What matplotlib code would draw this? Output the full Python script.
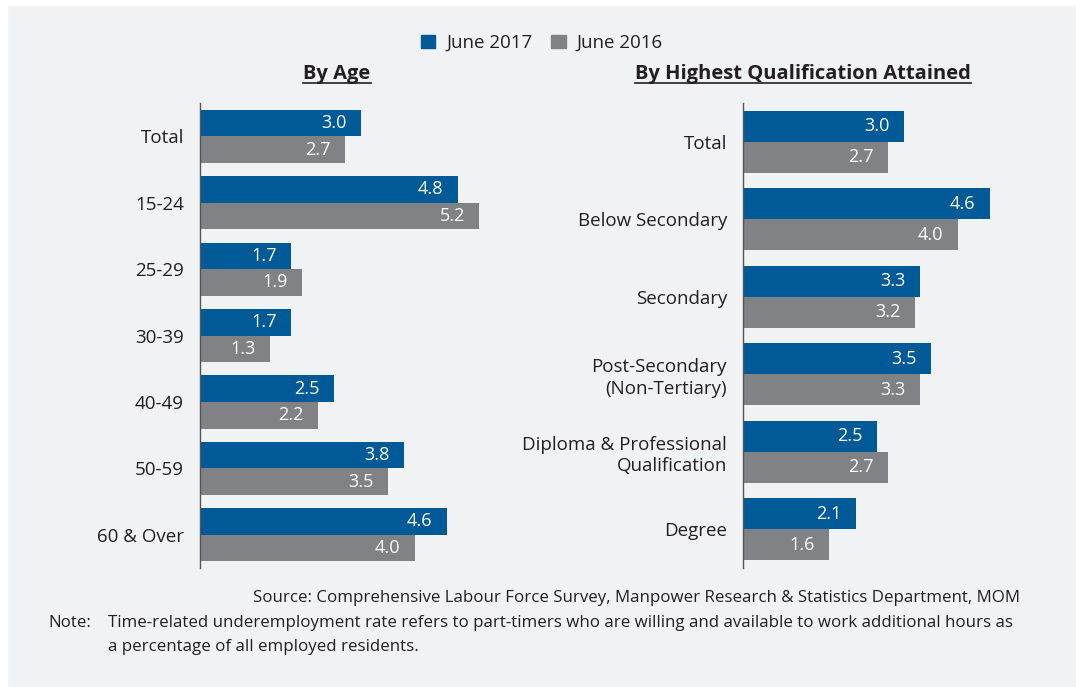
import matplotlib.pyplot as plt
from matplotlib.lines import Line2D
from matplotlib.patches import Rectangle
import numpy as np

plt.rcParams['font.family'] = ['Open Sans', 'DejaVu Sans']

age_groups = ['Total', '15-24', '25-29', '30-39', '40-49', '50-59', '60 & Over']
age_2017 = [3.0, 4.8, 1.7, 1.7, 2.5, 3.8, 4.6]
age_2016 = [2.7, 5.2, 1.9, 1.3, 2.2, 3.5, 4.0]

qual_groups = ['Total', 'Below Secondary', 'Secondary', 'Post-Secondary\n(Non-Tertiary)',
               'Diploma & Professional\nQualification', 'Degree']
qual_2017 = [3.0, 4.6, 3.3, 3.5, 2.5, 2.1]
qual_2016 = [2.7, 4.0, 3.2, 3.3, 2.7, 1.6]

BLUE = '#005a98'
GREY = '#808285'
TXT = '#231f20'
BG = '#f1f2f4'

W, H = 1076, 687
fig = plt.figure(figsize=(W / 100, H / 100), dpi=100, facecolor=BG)
# white strips along the top and left edge
fig.patches.append(Rectangle((0, 1 - 5 / H), 1, 5 / H, transform=fig.transFigure, color='white', zorder=0))
fig.patches.append(Rectangle((0, 0), 7 / W, 1, transform=fig.transFigure, color='white', zorder=0))


def draw_panel(ax, cats, v17, v16):
    y = np.arange(len(cats))
    h = 0.4
    ax.barh(y - h / 2, v17, height=h, color=BLUE)
    ax.barh(y + h / 2, v16, height=h, color=GREY)
    for yy, v in zip(y - h / 2, v17):
        ax.text(v - 0.27, yy, f'{v:.1f}', color='white', ha='right', va='center', fontsize=13)
    for yy, v in zip(y + h / 2, v16):
        ax.text(v - 0.27, yy, f'{v:.1f}', color='white', ha='right', va='center', fontsize=13)
    ax.set_ylim(len(cats) - 0.5, -0.5)
    ax.set_xlim(0, 300 / 53.7)
    ax.set_yticks(y)
    ax.set_yticklabels(cats, fontsize=13.5, color=TXT, linespacing=1.25)
    ax.tick_params(axis='y', length=0, pad=11.5)
    ax.set_xticks([])
    for s in ['top', 'right', 'bottom']:
        ax.spines[s].set_visible(False)
    ax.spines['left'].set_color('#555555')
    ax.spines['left'].set_linewidth(1.0)
    ax.set_facecolor('none')


ax1 = fig.add_axes([200 / W, 1 - 568 / H, 300 / W, 465 / H])
ax2 = fig.add_axes([743 / W, 1 - 568 / H, 300 / W, 465 / H])
draw_panel(ax1, age_groups, age_2017, age_2016)
draw_panel(ax2, qual_groups, qual_2017, qual_2016)

titles = []
titles.append(fig.text(337 / W, 1 - 74 / H, 'By Age', ha='center', va='center',
                       fontsize=14.5, fontweight='bold', color=TXT))
titles.append(fig.text(803 / W, 1 - 74 / H, 'By Highest Qualification Attained', ha='center', va='center',
                       fontsize=14.5, fontweight='bold', color=TXT))

handles = [Rectangle((0, 0), 1, 1, color=BLUE), Rectangle((0, 0), 1, 1, color=GREY)]
fig.legend(handles, ['June 2017', 'June 2016'], loc='center', bbox_to_anchor=(542 / W, 1 - 43 / H),
           ncol=2, frameon=False, fontsize=13.5, handlelength=0.75, handleheight=0.75,
           handletextpad=0.6, columnspacing=1.0, labelcolor=TXT)

fig.text(1020 / W, 1 - 598 / H,
         'Source: Comprehensive Labour Force Survey, Manpower Research & Statistics Department, MOM',
         ha='right', va='center', fontsize=12.2, color=TXT)
fig.text(48 / W, 1 - 623 / H, 'Note:', ha='left', va='center', fontsize=12.2, color=TXT)
fig.text(108 / W, 1 - 623 / H,
         'Time-related underemployment rate refers to part-timers who are willing and available to work additional hours as',
         ha='left', va='center', fontsize=12.2, color=TXT)
fig.text(108 / W, 1 - 647 / H, 'a percentage of all employed residents.',
         ha='left', va='center', fontsize=12.2, color=TXT)

# underline the panel titles
fig.canvas.draw()
r = fig.canvas.get_renderer()
for t in titles:
    bb = t.get_window_extent(r).transformed(fig.transFigure.inverted())
    yl = bb.y0 + 1.5 / H
    fig.add_artist(Line2D([bb.x0, bb.x1], [yl, yl], transform=fig.transFigure, color=TXT, lw=1.2))

fig.savefig('out.png', dpi=100, facecolor=BG)
